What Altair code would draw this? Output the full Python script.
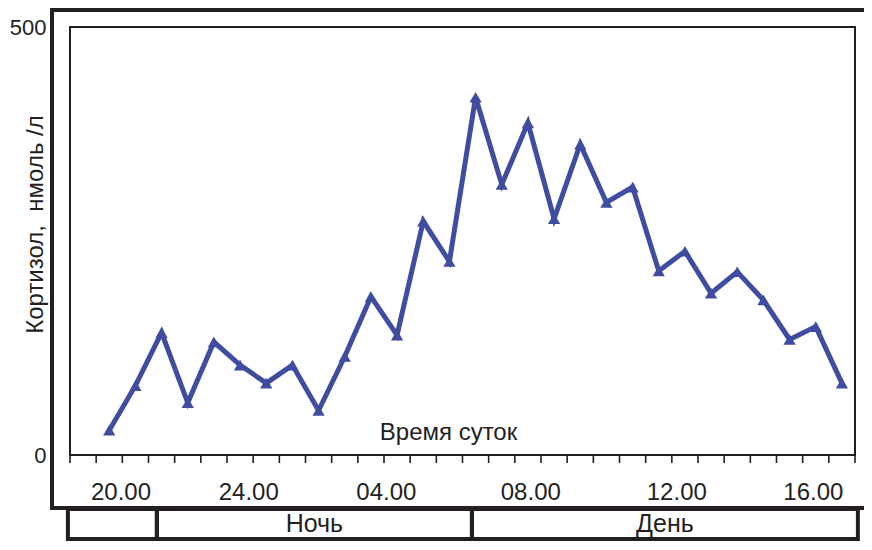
import altair as alt
import pandas as pd

# ---- data ----
slots = list(range(1, 30))
cortisol = [29, 81, 143, 61, 132, 105, 84, 105, 52, 115, 185, 140, 273, 226,
            418, 316, 388, 276, 363, 295, 313, 215, 238, 189, 214, 181, 135, 150, 84]
tick_label_pos = [1.45, 6.33, 11.59, 17.11, 22.69, 27.91]
tick_labels = ["20.00", "24.00", "04.00", "08.00", "12.00", "16.00"]
period_start = [-0.58, 2.82, 14.86]
period_end = [2.82, 14.86, 29.61]
period_names = ["", "Ночь", "День"]
grid_ticks = [i - 0.5 for i in range(31)]
y_ticks = [0, 500]

W, H = 785, 428
FONT = "Liberation Sans"
INK = "#231f20"
BLUE = "#3f4c9f"

xs = alt.Scale(domain=[-0.5, 29.5], nice=False, zero=False)
ys = alt.Scale(domain=[0, 500], nice=False, zero=True)

df = pd.DataFrame({"x": slots, "v": cortisol})
lab_df = pd.DataFrame({"x": tick_label_pos, "lab": tick_labels})
per_df = pd.DataFrame({"s": period_start, "e": period_end, "name": period_names})
tick_df = pd.DataFrame({"x": grid_ticks})

x_axis = alt.Axis(values=grid_ticks, labels=False, ticks=False, domain=False, grid=False,
                  title="Время суток", titleX=378, titleY=-23,
                  titleFont=FONT, titleFontSize=24, titleFontWeight="normal",
                  titleColor=INK, titleAlign="center", titleBaseline="middle")
y_axis = alt.Axis(values=y_ticks, ticks=False, domain=False, grid=False,
                  labelPadding=24, labelFont=FONT, labelFontSize=22, labelColor=INK,
                  title="Кортизол,\u00a0\u00a0нмоль /л", titleX=-35, titleY=197,
                  titleAngle=270, titleAlign="center", titleBaseline="middle",
                  titleFont=FONT, titleFontSize=24, titleFontWeight="normal",
                  titleColor=INK)

frame = alt.Chart(pd.DataFrame({"k": [0]})).mark_rect(
    fillOpacity=0, stroke=INK, strokeWidth=4
).encode(x=alt.value(-18), x2=alt.value(830), y=alt.value(-17), y2=alt.value(481))

boxes = alt.Chart(per_df).mark_rect(
    fillOpacity=0, stroke=INK, strokeWidth=4
).encode(x=alt.X("s:Q", scale=xs), x2="e:Q", y=alt.value(482), y2=alt.value(512))

box_text = alt.Chart(per_df).transform_calculate(
    mid="(datum.s + datum.e) / 2"
).mark_text(font=FONT, fontSize=25, color=INK, baseline="middle").encode(
    x=alt.X("mid:Q", scale=xs), y=alt.value(497), text="name:N")

ticks = alt.Chart(tick_df).mark_rule(color=INK, strokeWidth=1.6).encode(
    x=alt.X("x:Q", scale=xs), y=alt.value(H), y2=alt.value(H + 8))

labels = alt.Chart(lab_df).mark_text(
    font=FONT, fontSize=24, color=INK, baseline="middle"
).encode(x=alt.X("x:Q", scale=xs), y=alt.value(466), text="lab:N")

line = alt.Chart(df).mark_line(color=BLUE, strokeWidth=5).encode(
    x=alt.X("x:Q", scale=xs, axis=x_axis),
    y=alt.Y("v:Q", scale=ys, axis=y_axis),
)
points = alt.Chart(df).mark_point(
    shape="triangle-up", filled=True, size=150, color=BLUE, opacity=1
).encode(x=alt.X("x:Q", scale=xs), y=alt.Y("v:Q", scale=ys))

chart = alt.layer(frame, boxes, box_text, ticks, labels, line, points).properties(
    width=W, height=H,
    autosize=alt.AutoSizeParams(type="none"),
    padding={"left": 62, "top": 19, "right": 9, "bottom": 87},
    background="white",
).configure_view(stroke=INK, strokeWidth=2)

chart.save("out.html", embed_options={"renderer": "svg", "actions": False})
